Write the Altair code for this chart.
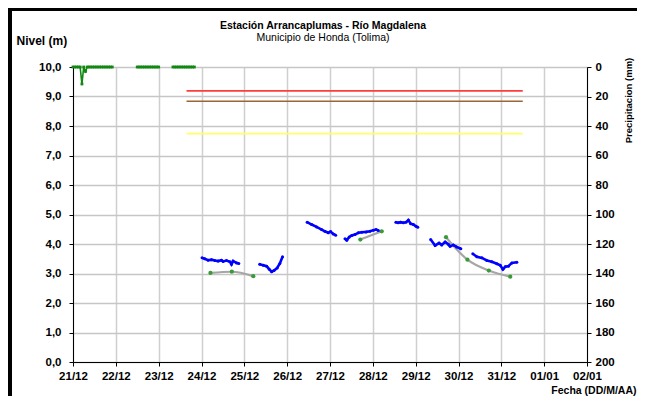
import json
import altair as alt
import pandas as pd

# ---------------- data ----------------
chart_title = "Estación Arrancaplumas - Río Magdalena"
chart_subtitle = "Municipio de Honda (Tolima)"

day_labels = ["21/12", "22/12", "23/12", "24/12", "25/12", "26/12", "27/12",
              "28/12", "29/12", "30/12", "31/12", "01/01", "02/01"]

# observed level (m); time = hours after 21/12 00:00
obs_hours_1 = [72.3, 73.8, 75.7, 77.6, 79.5, 81.3, 83.2, 84.1, 86.0, 87.9, 88.8, 89.7, 91.6, 92.9]
obs_level_1 = [3.53, 3.50, 3.45, 3.47, 3.44, 3.42, 3.45, 3.41, 3.44, 3.40, 3.31, 3.42, 3.36, 3.34]
obs_hours_2 = [104.6, 106.6, 108.5, 110.0, 111.3, 112.6, 114.4, 115.9, 117.4]
obs_level_2 = [3.31, 3.28, 3.25, 3.14, 3.06, 3.10, 3.19, 3.34, 3.57]
obs_hours_3 = [131.2, 133.7, 136.5, 139.3, 141.1, 143.0, 144.3, 145.8, 147.2]
obs_level_3 = [4.74, 4.66, 4.58, 4.49, 4.43, 4.38, 4.42, 4.34, 4.30]
obs_hours_4 = [152.4, 153.4, 154.8, 156.2, 158.0, 159.9, 161.8, 164.2, 166.4, 168.3, 169.8, 171.1]
obs_level_4 = [4.18, 4.13, 4.24, 4.29, 4.32, 4.38, 4.40, 4.41, 4.43, 4.47, 4.49, 4.46]
obs_hours_5 = [180.9, 182.2, 183.6, 185.1, 186.6, 187.9, 189.2, 190.7, 192.2, 193.2]
obs_level_5 = [4.74, 4.72, 4.74, 4.72, 4.74, 4.81, 4.69, 4.66, 4.60, 4.57]
obs_hours_6 = [200.4, 202.9, 205.1, 206.6, 208.5, 210.3, 211.3, 213.1, 215.0, 217.3]
obs_level_6 = [4.15, 3.95, 4.03, 3.97, 4.07, 3.99, 3.92, 3.97, 3.90, 3.84]
obs_hours_7 = [224.0, 226.3, 229.1, 231.9, 234.7, 237.5, 239.4, 240.9, 242.2, 244.0, 245.9, 248.7]
obs_level_7 = [3.67, 3.57, 3.53, 3.44, 3.40, 3.33, 3.28, 3.14, 3.23, 3.25, 3.36, 3.38]

# forecast level (m)
fc_hours_1 = [77, 89, 101]
fc_level_1 = [3.02, 3.06, 2.91]
fc_hours_2 = [161, 173]
fc_level_2 = [4.15, 4.43]
fc_hours_3 = [209, 221, 233, 245]
fc_level_3 = [4.23, 3.47, 3.10, 2.89]

# precipitation (mm)
pp_hours_1 = [0, 1, 2, 3, 4, 5, 6, 7, 8, 9, 10, 11, 12, 13, 14, 15, 16, 17, 18, 19, 20, 21, 22]
pp_mm_1 = [0, 0, 0, 0, 0, 11.5, 0, 3.0, 0, 0, 0, 0, 0, 0, 0, 0, 0, 0, 0, 0, 0, 0, 0]
pp_hours_2 = [36, 37, 38, 39, 40, 41, 42, 43, 44, 45, 46, 47, 48]
pp_mm_2 = [0, 0, 0, 0, 0, 0, 0, 0, 0, 0, 0, 0, 0]
pp_hours_3 = [56, 57, 58, 59, 60, 61, 62, 63, 64, 65, 66, 67, 68]
pp_mm_3 = [0, 0, 0, 0, 0, 0, 0, 0, 0, 0, 0, 0, 0]

# alert thresholds (m)
alert_names = ["roja", "naranja", "amarilla"]
alert_levels = [9.19, 8.84, 7.74]
alert_colors = ["#ff3c3c", "#9a6633", "#ffff66"]
alert_start_hour = 63.6
alert_end_hour = 252.0

# ---------------- tables ----------------
def seg_table(groups, value_name):
    rows = []
    for gi, (hrs, vals) in enumerate(groups):
        for h, v in zip(hrs, vals):
            rows.append({"seg": gi, "day": h / 24.0, value_name: v})
    return pd.DataFrame(rows)

obs = seg_table([(obs_hours_1, obs_level_1), (obs_hours_2, obs_level_2),
                 (obs_hours_3, obs_level_3), (obs_hours_4, obs_level_4),
                 (obs_hours_5, obs_level_5), (obs_hours_6, obs_level_6),
                 (obs_hours_7, obs_level_7)], "nivel")
fc = seg_table([(fc_hours_1, fc_level_1), (fc_hours_2, fc_level_2),
                (fc_hours_3, fc_level_3)], "nivel")
pp = seg_table([(pp_hours_1, pp_mm_1), (pp_hours_2, pp_mm_2),
                (pp_hours_3, pp_mm_3)], "mm")
alerts = pd.DataFrame({"alerta": alert_names, "nivel": alert_levels,
                       "x0": [alert_start_hour / 24.0] * 3,
                       "x1": [alert_end_hour / 24.0] * 3})

FONT = "Liberation Sans"
LBL = 11.5
label_arr = json.dumps(day_labels)
x_scale = alt.Scale(domain=[0, 12], nice=False, zero=False)

x_enc = alt.X("day:Q", scale=x_scale,
              axis=alt.Axis(values=list(range(13)), labelExpr=f"{label_arr}[datum.value]",
                            labelFlush=False, labelOverlap=False,
                            title="Fecha (DD/M/AA)", titleX=563, titleY=31,
                            titleAlign="right", titleBaseline="alphabetic",
                            grid=True, gridColor="#cfcfcf", gridWidth=1.5,
                            domainColor="black", tickColor="black", tickSize=4,
                            labelPadding=4, labelFontSize=LBL, labelFontWeight="bold",
                            titleFontSize=10.5, titleFontWeight="bold",
                            labelFont=FONT, titleFont=FONT, labelColor="black", titleColor="black"))

y_axis = alt.Axis(values=list(range(11)),
                  labelExpr="replace(format(datum.value, '.1f'), '.', ',')",
                  labelFlush=False,
                  title="Nivel (m)", titleAngle=0, titleX=-57, titleY=-23,
                  titleAlign="left", titleBaseline="alphabetic",
                  grid=True, gridColor="#c6c6c6", gridWidth=1.5,
                  domainColor="black", tickColor="black", tickSize=4, labelPadding=8,
                  labelFontSize=LBL, labelFontWeight="bold", titleFontSize=12,
                  titleFontWeight="bold", labelFont=FONT, titleFont=FONT,
                  labelColor="black", titleColor="black")
y_enc = alt.Y("nivel:Q", scale=alt.Scale(domain=[0, 10], nice=False), axis=y_axis)

obs_line = alt.Chart(obs).mark_line(color="#0000ff", strokeWidth=2.6,
                                    point=alt.OverlayMarkDef(color="#0000ff", size=9, filled=True)).encode(
    x=x_enc, y=y_enc, detail="seg:N")

fc_line = alt.Chart(fc).mark_line(color="#a6a6a6", strokeWidth=2.2, interpolate="monotone").encode(
    x=x_enc, y=y_enc, detail="seg:N")
fc_pts = alt.Chart(fc).mark_circle(color="#3a9a3a", size=18, opacity=1).encode(x=x_enc, y=y_enc)

alert_rules = alt.Chart(alerts).mark_rule(strokeWidth=1.6).encode(
    x=alt.X("x0:Q", scale=x_scale), x2="x1:Q", y=y_enc,
    color=alt.Color("alerta:N", scale=alt.Scale(domain=alert_names, range=alert_colors), legend=None))

left = alt.layer(alert_rules, fc_line, fc_pts, obs_line)

pp_axis = alt.Axis(values=list(range(0, 201, 20)), orient="right", grid=False,
                   labelFlush=False,
                   title="Precipitacion (mm)", titleAngle=270, titleX=41, titleY=33,
                   titleAlign="center", titleBaseline="middle",
                   domainColor="black", tickColor="black", tickSize=4, labelPadding=4,
                   labelFontSize=LBL, labelFontWeight="bold", titleFontSize=9.5,
                   titleFontWeight="bold", labelFont=FONT, titleFont=FONT,
                   labelColor="black", titleColor="black")
precip = alt.Chart(pp).mark_line(color="#118811", strokeWidth=1.6,
                                 point=alt.OverlayMarkDef(color="#118811", shape="square", size=8, filled=True)).encode(
    x=x_enc,
    y=alt.Y("mm:Q", scale=alt.Scale(domain=[0, 200], reverse=True, nice=False), axis=pp_axis),
    detail="seg:N")

one = pd.DataFrame({"k": [0]})
frame_left = alt.Chart(one).mark_rule(color="black", strokeWidth=4).encode(
    x=alt.value(-63), y=alt.value(-59), y2=alt.value(330))
frame_top = alt.Chart(one).mark_rule(color="black", strokeWidth=3).encode(
    x=alt.value(-65), x2=alt.value(564), y=alt.value(-57.5))
title_txt = alt.Chart(one).mark_text(font=FONT, fontSize=10.5, fontWeight="bold", color="black",
                                     align="center", baseline="alphabetic").encode(
    x=alt.value(250), y=alt.value(-38), text=alt.value(chart_title))
subtitle_txt = alt.Chart(one).mark_text(font=FONT, fontSize=10.5, color="black",
                                        align="center", baseline="alphabetic").encode(
    x=alt.value(250), y=alt.value(-26), text=alt.value(chart_subtitle))

chart = alt.layer(left, precip, frame_left, frame_top, title_txt, subtitle_txt).resolve_scale(
    y="independent").properties(
    width=514, height=295,
    padding={"left": 65, "top": 59, "right": 50, "bottom": 34},
    autosize=alt.AutoSizeParams(type="none"),
).configure_view(stroke=None).configure(background="white")

chart.save("out.html", embed_options={"renderer": "svg", "actions": False})
